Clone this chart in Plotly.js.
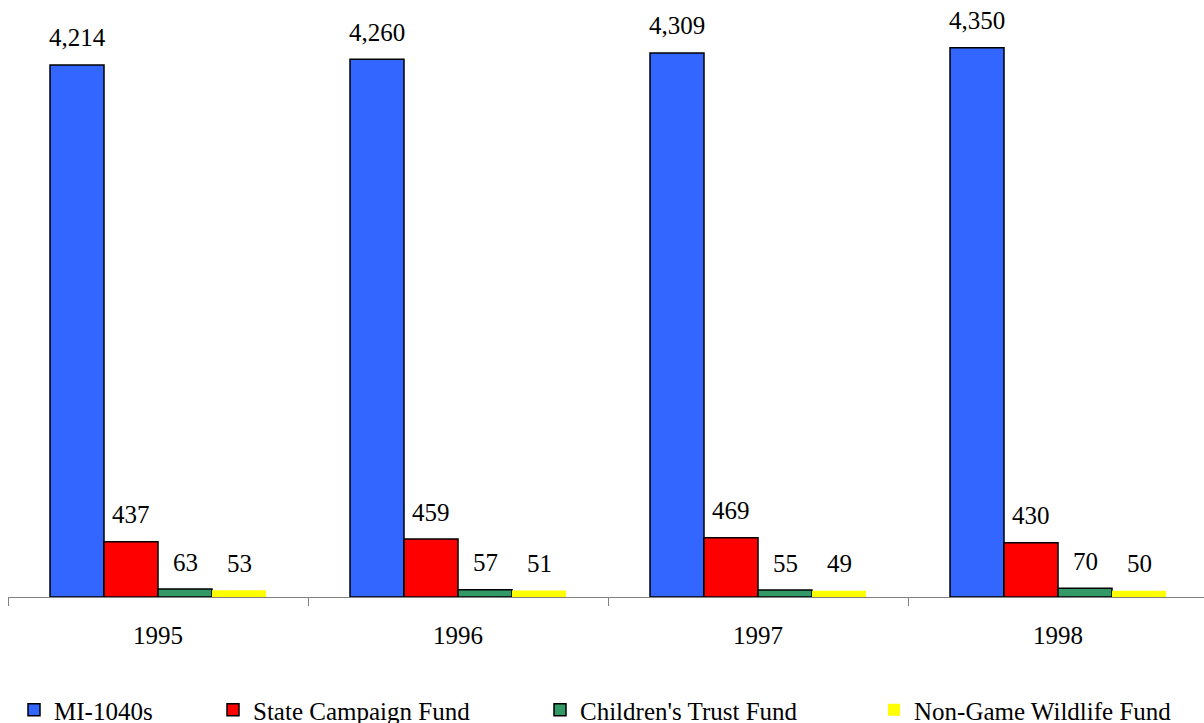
<!DOCTYPE html>
<html>
<head>
<meta charset="utf-8">
<script src="https://cdn.plot.ly/plotly-3.0.1.min.js"></script>
<style>
  html, body { margin: 0; padding: 0; background: #fff; overflow: hidden; }
  #chart { width: 1204px; height: 723px; }
</style>
</head>
<body>
<div id="chart"></div>
<script>
// Returns filed per year (thousands) and the check-off funds
const years = ['1995', '1996', '1997', '1998'];
const mi1040s = [4214, 4260, 4309, 4350];
const stateCampaignFund = [437, 459, 469, 430];
const childrensTrustFund = [63, 57, 55, 70];
const nonGameWildlifeFund = [53, 51, 49, 50];

const seriesNames = ['MI-1040s', 'State Campaign Fund', "Children's Trust Fund", 'Non-Game Wildlife Fund'];
const seriesValues = [mi1040s, stateCampaignFund, childrensTrustFund, nonGameWildlifeFund];
const seriesColors = ['#3366FF', '#FF0000', '#339966', '#FFFF00'];
const outlineWidths = [1.5, 1.5, 1.5, 0];

const FONT = 'Liberation Serif';
const BAR_PX = 54;                 // width of one bar in pixels
const legendLeft = [14, 213, 540, 874];   // container x of each legend box

const traces = seriesValues.map((vals, i) => ({
  type: 'bar',
  name: seriesNames[i],
  x: years,
  y: vals,
  marker: { color: seriesColors[i], line: { color: '#000', width: outlineWidths[i] } },
  legend: i === 0 ? 'legend' : 'legend' + (i + 1),
  hoverinfo: 'x+y+name'
}));

// value labels above each bar
const annotations = [];
seriesValues.forEach((vals, i) => {
  vals.forEach((v, j) => {
    annotations.push({
      x: j, y: v, xref: 'x', yref: 'y',
      text: v.toLocaleString('en-US'),
      showarrow: false,
      xanchor: 'center', yanchor: 'middle',
      xshift: (i - 1.5) * BAR_PX,
      yshift: 27,
      font: { family: FONT, size: 25, color: '#000' }
    });
  });
});

const legendBase = {
  orientation: 'h',
  xref: 'container', yref: 'container',
  yanchor: 'middle', y: 1 - 710 / 723,
  xanchor: 'left',
  font: { family: FONT, size: 25, color: '#000' },
  bgcolor: 'rgba(0,0,0,0)',
  borderwidth: 0,
  itemwidth: 30,
  itemclick: false, itemdoubleclick: false
};

const layout = {
  width: 1204,
  height: 723,
  margin: { l: 8, r: 0, t: 4, b: 126, pad: 0 },
  paper_bgcolor: '#fff',
  plot_bgcolor: '#fff',
  barmode: 'group',
  bargap: 0.28,
  bargroupgap: 0,
  font: { family: FONT, size: 25, color: '#000' },
  xaxis: {
    type: 'category',
    range: [-0.5, 3.5 - 4 / 300],
    showline: true, linecolor: '#808080', linewidth: 1,
    ticks: 'outside', tickson: 'boundaries', ticklen: 8, tickcolor: '#808080', tickwidth: 1,
    ticklabelstandoff: 16,
    showgrid: false, zeroline: false,
    tickfont: { family: FONT, size: 25, color: '#000' }
  },
  yaxis: {
    range: [0, 593 / 0.12625],
    showticklabels: false, ticks: '', showline: false, showgrid: false, zeroline: false
  },
  annotations: annotations,
  showlegend: true,
  legend: Object.assign({}, legendBase, { x: legendLeft[0] / 1204 }),
  legend2: Object.assign({}, legendBase, { x: legendLeft[1] / 1204 }),
  legend3: Object.assign({}, legendBase, { x: legendLeft[2] / 1204 }),
  legend4: Object.assign({}, legendBase, { x: legendLeft[3] / 1204 })
};

Plotly.newPlot('chart', traces, layout, { displayModeBar: false, staticPlot: true });
</script>
</body>
</html>
